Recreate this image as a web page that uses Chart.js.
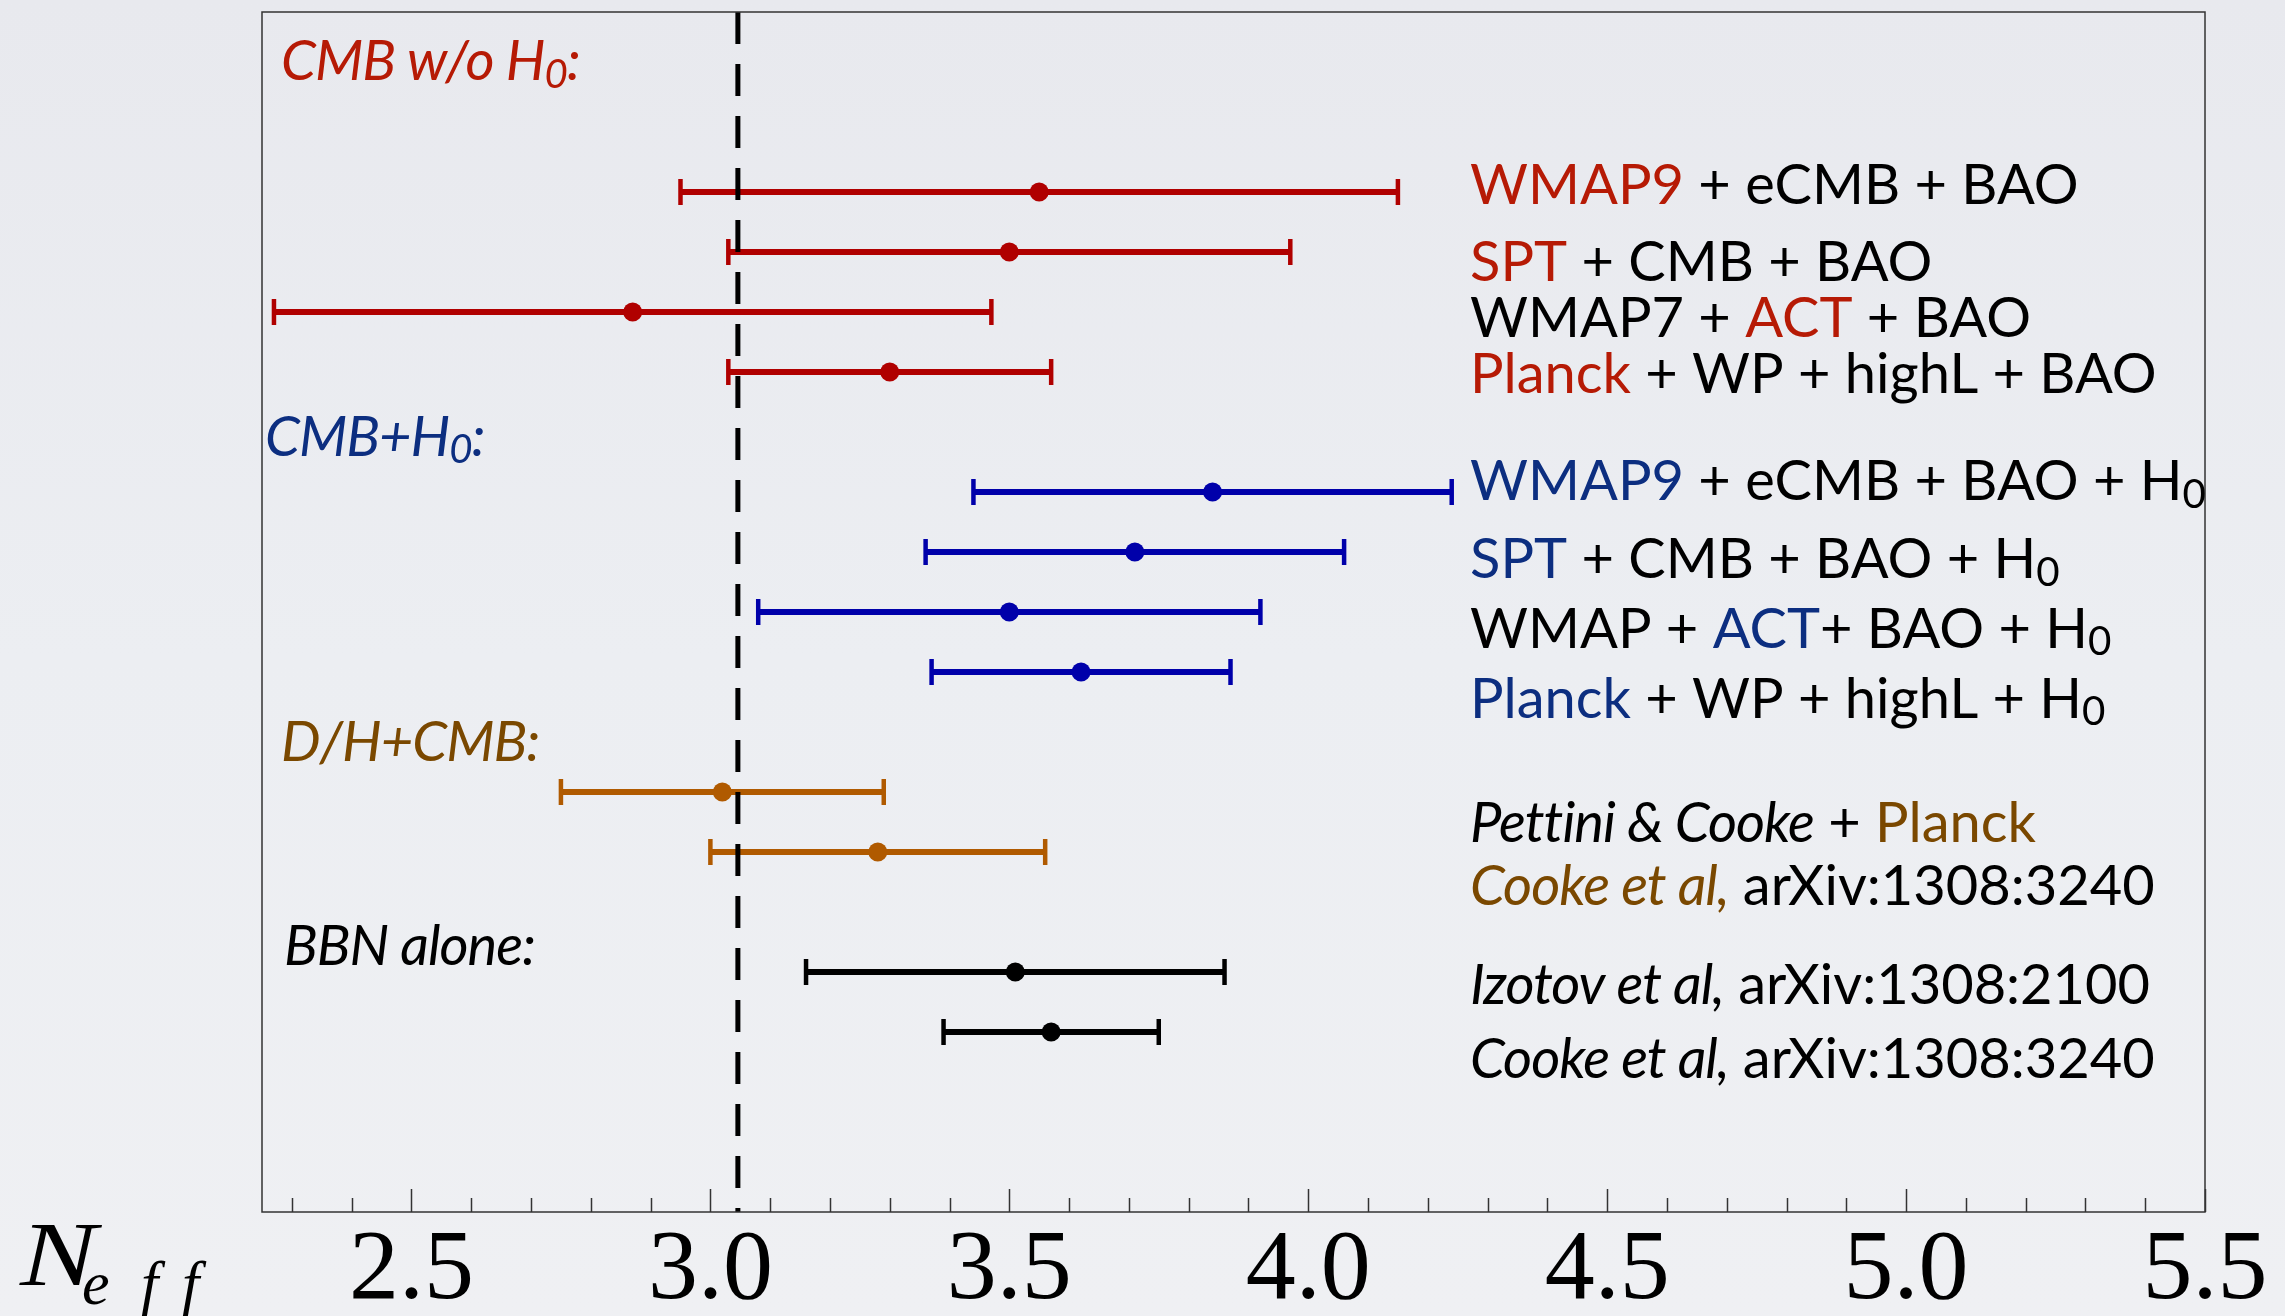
<!DOCTYPE html>
<html>
<head>
<meta charset="utf-8">
<title>N_eff constraints</title>
<script src="https://cdn.jsdelivr.net/npm/chart.js@4.4.0/dist/chart.umd.min.js"></script>
<style>
    html, body {
        margin: 0;
        padding: 0;
        width: 2285px;
        height: 1316px;
        overflow: hidden;
        background: linear-gradient(180deg, #e8e9ee 0%, #eceef2 50%, #eff0f3 100%);
    }
    canvas { display: block; }
</style>
</head>
<body>
<canvas id="neffChart" width="2285" height="1316"></canvas>
<script>
/**
 * N_eff constraints - error bar chart
 */

// Measurements: central value and 1-sigma range
const centers = [3.55, 3.50, 2.87, 3.30, 3.84, 3.71, 3.50, 3.62, 3.02, 3.28, 3.51, 3.57];
const lows    = [2.95, 3.03, 2.27, 3.03, 3.44, 3.36, 3.08, 3.37, 2.75, 3.00, 3.16, 3.39];
const highs   = [4.15, 3.97, 3.47, 3.57, 4.24, 4.06, 3.92, 3.87, 3.29, 3.56, 3.86, 3.75];

// Row of each measurement (0 = top of frame, 100 = bottom)
const rows   = [15, 20, 25, 30, 40, 45, 50, 55, 65, 70, 80, 85];
const groups = ['cmb', 'cmb', 'cmb', 'cmb', 'h0', 'h0', 'h0', 'h0', 'dh', 'dh', 'bbn', 'bbn'];

// Standard model value
const standardNeff = 3.046;

// Labelled ticks
const tickLabels = ['2.5', '3.0', '3.5', '4.0', '4.5', '5.0', '5.5'];

// Colors
const BAR_COLORS = {
    cmb: '#b00000',
    h0: '#0000aa',
    dh: '#b05a00',
    bbn: '#000000'
};
const TEXT_COLORS = {
    red: '#b61a05',
    blue: '#0c2e80',
    brown: '#7a4800',
    black: '#000000'
};

// Text segments: [text, color, flags]  (flags: i = italic, s = subscript)
const dataLabels = [
    [['WMAP9', 'red'], [' + eCMB + BAO']],
    [['SPT', 'red'], [' + CMB + BAO']],
    [['WMAP7 + '], ['ACT', 'red'], [' + BAO']],
    [['Planck', 'red'], [' + WP + highL + BAO']],
    [['WMAP9', 'blue'], [' + eCMB + BAO + H'], ['0', 'black', 's']],
    [['SPT', 'blue'], [' + CMB + BAO + H'], ['0', 'black', 's']],
    [['WMAP + '], ['ACT', 'blue'], ['+ BAO + H'], ['0', 'black', 's']],
    [['Planck', 'blue'], [' + WP + highL + H'], ['0', 'black', 's']],
    [['Pettini & Cooke', 'black', 'i'], [' + '], ['Planck', 'brown']],
    [['Cooke et al,', 'brown', 'i'], [' arXiv:1308:3240']],
    [['Izotov et al,', 'black', 'i'], [' arXiv:1308:2100']],
    [['Cooke et al,', 'black', 'i'], [' arXiv:1308:3240']]
];
const groupTitles = [
    [['CMB w/o H', 'red', 'i'], ['0', 'red', 'is'], [':', 'red', 'i']],
    [['CMB+H', 'blue', 'i'], ['0', 'blue', 'is'], [':', 'blue', 'i']],
    [['D/H+CMB:', 'brown', 'i']],
    [['BBN alone:', 'black', 'i']]
];

// Text placement (baseline row on the 0-100 scale, x in px)
const LABEL_X = 1470;
const LABEL_ROWS = [16.0, 22.4, 27.1, 31.75, 40.7, 47.2, 53.0, 58.8, 69.2, 74.4, 82.7, 88.8];
const TITLE_X = [281, 265, 281, 284];
const TITLE_ROWS = [5.7, 37.0, 62.4, 79.4];
const TEXT_SIZE = 56;
const TEXT_FONT = 'Lato';

/**
 * Draw a run of coloured text segments
 */
function drawSegments(ctx, segs, x, y, size) {
    segs.forEach(([text, color, flags = '']) => {
        const sub = flags.includes('s');
        const italic = flags.includes('i');
        const fs = sub ? size * 0.72 : size;
        ctx.font = `${italic ? 'italic ' : ''}${fs}px ${TEXT_FONT}`;
        ctx.letterSpacing = italic ? '-1px' : '0px';
        ctx.fillStyle = TEXT_COLORS[color || 'black'];
        ctx.fillText(text, x, y + (sub ? size * 0.13 : 0));
        x += ctx.measureText(text).width;
    });
    ctx.letterSpacing = '0px';
}

/**
 * Frame, inside tick marks and annotations
 */
const decorPlugin = {
    id: 'decor',
    afterDraw(chart) {
        const { ctx, chartArea: area, scales } = chart;
        const x = scales.x;
        const y = scales.y;

        ctx.save();
        // frame
        ctx.strokeStyle = '#333';
        ctx.lineWidth = 1.5;
        ctx.strokeRect(area.left, area.top, area.right - area.left, area.bottom - area.top);

        // tick marks pointing into the plot
        ctx.lineWidth = 1.5;
        x.ticks.forEach(t => {
            const px = Math.round(x.getPixelForValue(t.value)) + 0.5;
            const major = Math.abs(t.value * 2 - Math.round(t.value * 2)) < 1e-6;
            ctx.beginPath();
            ctx.moveTo(px, area.bottom);
            ctx.lineTo(px, area.bottom - (major ? 23 : 14));
            ctx.stroke();
        });

        // labels
        ctx.textBaseline = 'alphabetic';
        ctx.textAlign = 'left';
        dataLabels.forEach((segs, i) => {
            drawSegments(ctx, segs, LABEL_X, y.getPixelForValue(LABEL_ROWS[i]), TEXT_SIZE);
        });
        groupTitles.forEach((segs, i) => {
            drawSegments(ctx, segs, TITLE_X[i], y.getPixelForValue(TITLE_ROWS[i]), TEXT_SIZE);
        });

        // axis name
        ctx.fillStyle = '#000';
        ctx.save();
        ctx.translate(20, 1285);
        ctx.scale(1.25, 1);
        ctx.font = 'italic 92px "Liberation Serif"';
        ctx.fillText('N', 0, 0);
        ctx.restore();
        ctx.font = 'italic 62px "Liberation Serif"';
        ctx.fillText('e', 82, 1304);
        ctx.fillText('f', 141, 1304);
        ctx.fillText('f', 182, 1304);
        ctx.restore();
    }
};

// Datasets
const datasets = [];

datasets.push({
    type: 'line',
    data: [{ x: standardNeff, y: 0 }, { x: standardNeff, y: 100 }],
    borderColor: '#000',
    borderWidth: 5,
    borderDash: [32, 20],
    pointRadius: 0
});

centers.forEach((c, i) => {
    const color = BAR_COLORS[groups[i]];
    datasets.push({
        type: 'line',
        data: [{ x: lows[i], y: rows[i] }, { x: highs[i], y: rows[i] }],
        borderColor: color,
        borderWidth: 6,
        pointStyle: 'line',
        pointRotation: 90,
        pointRadius: 13,
        pointBorderWidth: 4.5,
        pointBorderColor: color,
        pointBackgroundColor: color
    });
});

datasets.push({
    type: 'scatter',
    data: centers.map((c, i) => ({ x: c, y: rows[i] })),
    pointRadius: 9.5,
    pointBackgroundColor: groups.map(g => BAR_COLORS[g]),
    pointBorderWidth: 0
});

new Chart(document.getElementById('neffChart').getContext('2d'), {
    type: 'scatter',
    data: { datasets },
    options: {
        responsive: false,
        animation: false,
        events: [],
        layout: {
            autoPadding: false,
            padding: { left: 262, right: 80, top: 12, bottom: 0 }
        },
        plugins: {
            legend: { display: false },
            tooltip: { enabled: false }
        },
        scales: {
            x: {
                type: 'linear',
                min: 2.25,
                max: 5.5,
                afterBuildTicks: (scale) => {
                    const ticks = [];
                    for (let i = 23; i <= 55; i++) ticks.push({ value: i / 10 });
                    scale.ticks = ticks;
                },
                afterFit: (scale) => { scale.height = 104; },
                grid: { display: false, drawTicks: false },
                border: { display: false },
                ticks: {
                    autoSkip: false,
                    maxRotation: 0,
                    minRotation: 0,
                    padding: 0,
                    color: '#000',
                    font: { family: 'Liberation Serif', size: 100 },
                    callback: (value) => {
                        const label = value.toFixed(1);
                        return tickLabels.includes(label) ? label : '';
                    }
                }
            },
            y: {
                type: 'linear',
                min: 0,
                max: 100,
                reverse: true,
                display: false
            }
        }
    },
    plugins: [decorPlugin]
});
</script>
</body>
</html>
